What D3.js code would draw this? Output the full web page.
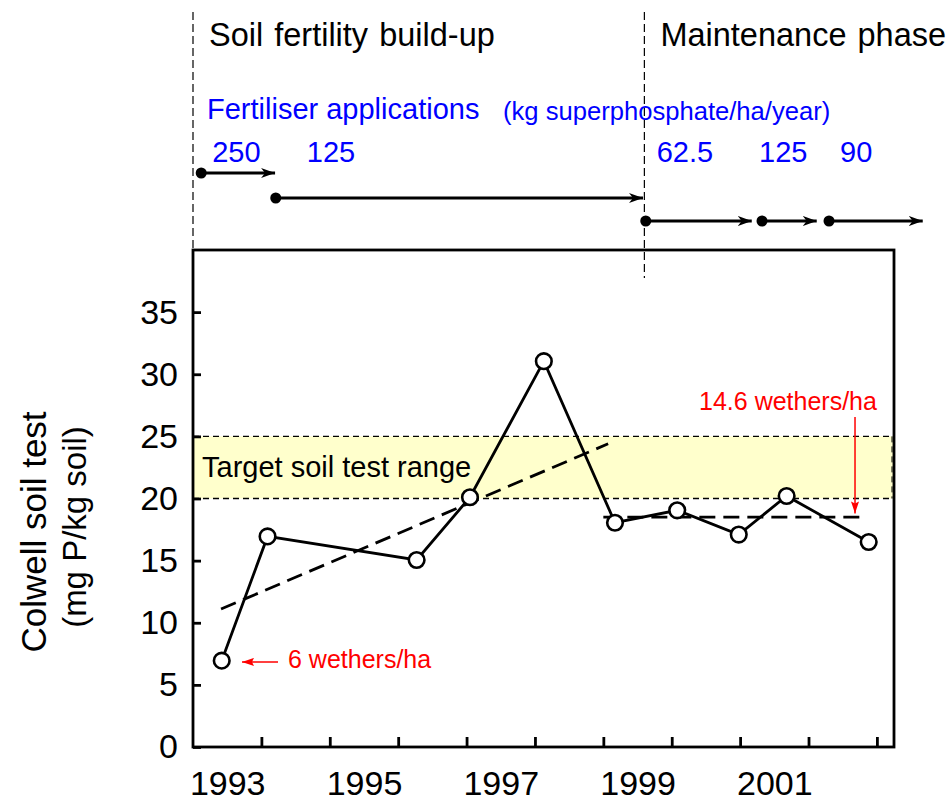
<!DOCTYPE html>
<html>
<head>
<meta charset="utf-8">
<script src="https://cdn.jsdelivr.net/npm/d3@7"></script>
<style>
  html, body { margin: 0; padding: 0; background: #fff; }
  svg { display: block; }
  text { font-family: "Liberation Sans", Arial, sans-serif; }
</style>
</head>
<body>
<svg id="chart" width="952" height="801"></svg>
<script>
// ---------- data ----------
const sampleYears = [1993.42, 1994.09, 1996.27, 1997.05, 1998.13, 1999.17, 2000.08, 2000.98, 2001.68, 2002.88];
const colwellP    = [6.95, 16.95, 15.05, 20.1, 31.05, 18.05, 19.05, 17.1, 20.2, 16.5];

const trendBuildUp     = [[1993.41, 11.1], [1999.07, 24.4]];
const trendMaintenance = [[1999.0, 18.5], [2002.86, 18.5]];

const targetRange = [20, 25];
const yTicks = [0, 5, 10, 15, 20, 25, 30, 35];
const yearBoundaries = [1994, 1995, 1996, 1997, 1998, 1999, 2000, 2001, 2002, 2003];
const yearLabels = [1993, 1995, 1997, 1999, 2001];

const phaseNames  = ["Soil fertility build-up", "Maintenance phase"];
const phaseStarts = [1993.0, 1999.6];

const fertRates  = ["250", "125", "62.5", "125", "90"];
const fertStarts = [1993.12, 1994.21, 1999.62, 2001.32, 2002.30];
const fertEnds   = [1994.20, 1999.58, 2001.17, 2002.12, 2003.67];

// ---------- layout ----------
const svg = d3.select("#chart");
const pL = 193, pR = 894, pT = 250, pB = 747;
const x = d3.scaleLinear().domain([1993, 2003.25]).range([pL, pR]);
const y = d3.scaleLinear().domain([0, 40]).range([pB, pT]);

const defs = svg.append("defs");
defs.append("marker").attr("id", "blackHead")
  .attr("viewBox", "0 0 14 10").attr("refX", 14).attr("refY", 5)
  .attr("markerWidth", 14).attr("markerHeight", 10)
  .attr("markerUnits", "userSpaceOnUse").attr("orient", "auto")
  .append("path").attr("d", "M0,0 L14,5 L0,10 L4,5 Z").attr("fill", "#000");
defs.append("marker").attr("id", "redHead")
  .attr("viewBox", "0 0 12 8").attr("refX", 12).attr("refY", 4)
  .attr("markerWidth", 12).attr("markerHeight", 8)
  .attr("markerUnits", "userSpaceOnUse").attr("orient", "auto")
  .append("path").attr("d", "M0,0 L12,4 L0,8 L2,4 Z").attr("fill", "#ff0000");

// target band
svg.append("rect")
  .attr("x", pL).attr("y", y(targetRange[1]))
  .attr("width", pR - pL).attr("height", y(targetRange[0]) - y(targetRange[1]))
  .attr("fill", "#ffffcc");
svg.selectAll(".bandLine").data(targetRange).join("line")
  .attr("x1", pL).attr("x2", pR)
  .attr("y1", d => y(d)).attr("y2", d => y(d))
  .attr("stroke", "#000").attr("stroke-width", 1.3).attr("stroke-dasharray", "6,4");
svg.append("line")
  .attr("x1", pR - 2).attr("x2", pR - 2)
  .attr("y1", y(targetRange[1])).attr("y2", y(targetRange[0]))
  .attr("stroke", "#000").attr("stroke-width", 1).attr("stroke-dasharray", "6,4");
svg.append("text").attr("x", 202).attr("y", 477)
  .attr("font-size", 29).attr("fill", "#000").text("Target soil test range");

// phase lines and names
svg.selectAll(".phaseLine").data(phaseStarts).join("line")
  .attr("x1", d => x(d)).attr("x2", d => x(d))
  .attr("y1", 12).attr("y2", (d, i) => i === 0 ? pT : 278)
  .attr("stroke", "#000").attr("stroke-width", 1.2).attr("stroke-dasharray", "8,4");
svg.selectAll(".phaseName").data(phaseNames).join("text")
  .attr("x", (d, i) => x(phaseStarts[i]) + 16).attr("y", 46)
  .attr("font-size", 32.5).attr("fill", "#000").attr("word-spacing", 2).text(d => d);

// fertiliser header
svg.append("text").attr("x", 207).attr("y", 119).attr("font-size", 29).attr("fill", "#0000ff")
  .text("Fertiliser applications");
svg.append("text").attr("x", 503).attr("y", 120).attr("font-size", 25.6).attr("fill", "#0000ff")
  .text("(kg superphosphate/ha/year)");

const rowY = [173, 198, 221, 221, 221];
const labelDx = [11, 31, 11, -3, 11];
fertRates.forEach((r, i) => {
  const x0 = x(fertStarts[i]), x1 = x(fertEnds[i]);
  svg.append("line").attr("x1", x0).attr("x2", x1).attr("y1", rowY[i]).attr("y2", rowY[i])
    .attr("stroke", "#000").attr("stroke-width", 3.2).attr("marker-end", "url(#blackHead)");
  svg.append("circle").attr("cx", x0).attr("cy", rowY[i]).attr("r", 5.5).attr("fill", "#000");
  svg.append("text").attr("x", x0 + labelDx[i]).attr("y", 162)
    .attr("font-size", 29).attr("fill", "#0000ff").text(r);
});

// trend lines
const line = d3.line().x(d => x(d[0])).y(d => y(d[1]));
[trendBuildUp, trendMaintenance].forEach(t => {
  svg.append("path").attr("d", line(t)).attr("fill", "none")
    .attr("stroke", "#000").attr("stroke-width", 2.8).attr("stroke-dasharray", "16,8");
});

// data series
const pts = sampleYears.map((yr, i) => [yr, colwellP[i]]);
svg.append("path").attr("d", line(pts)).attr("fill", "none")
  .attr("stroke", "#000").attr("stroke-width", 2.8);
svg.selectAll(".pt").data(pts).join("circle")
  .attr("cx", d => x(d[0])).attr("cy", d => y(d[1])).attr("r", 7.8)
  .attr("fill", "#fff").attr("stroke", "#000").attr("stroke-width", 2.6);

// frame
svg.append("rect").attr("x", pL).attr("y", pT)
  .attr("width", pR - pL).attr("height", pB - pT)
  .attr("fill", "none").attr("stroke", "#000").attr("stroke-width", 2.8);

// y axis
const yAxis = svg.append("g").attr("transform", `translate(${pL},0)`)
  .call(d3.axisLeft(y).tickValues(yTicks).tickSizeInner(-8).tickSizeOuter(0).tickPadding(15));
yAxis.select(".domain").remove();
yAxis.selectAll(".tick line").attr("stroke-width", 2.8);
yAxis.selectAll(".tick text").attr("font-size", 34).attr("fill", "#000")
  .style("font-family", "'Liberation Sans', Arial, sans-serif");

// x axis: year boundary ticks
const xTickAxis = svg.append("g").attr("transform", `translate(0,${pB})`)
  .call(d3.axisBottom(x).tickValues(yearBoundaries).tickSizeInner(-10).tickSizeOuter(0).tickFormat(""));
xTickAxis.select(".domain").remove();
xTickAxis.selectAll(".tick line").attr("stroke-width", 2.8);
// x axis: year labels centred within year
const xLabAxis = svg.append("g").attr("transform", `translate(0,${pB})`)
  .call(d3.axisBottom(x).tickValues(yearLabels.map(v => v + 0.5)).tickSize(0).tickPadding(24)
    .tickFormat((d, i) => String(yearLabels[i])));
xLabAxis.select(".domain").remove();
xLabAxis.selectAll(".tick text").attr("font-size", 34).attr("fill", "#000")
  .style("font-family", "'Liberation Sans', Arial, sans-serif");

// y axis title
svg.append("text").attr("transform", "translate(46,532) rotate(-90)")
  .attr("text-anchor", "middle").attr("font-size", 35).attr("fill", "#000")
  .text("Colwell soil test");
svg.append("text").attr("transform", "translate(86,527) rotate(-90)")
  .attr("text-anchor", "middle").attr("font-size", 33).attr("fill", "#000")
  .text("(mg P/kg soil)");

// stocking rate annotations
svg.append("text").attr("x", x(2001.7)).attr("y", 410).attr("text-anchor", "middle")
  .attr("font-size", 25).attr("fill", "#ff0000").text("14.6 wethers/ha");
svg.append("line").attr("x1", x(2002.68)).attr("x2", x(2002.68))
  .attr("y1", 417).attr("y2", y(18.8))
  .attr("stroke", "#ff0000").attr("stroke-width", 1.5).attr("marker-end", "url(#redHead)");
svg.append("text").attr("x", 288).attr("y", 668)
  .attr("font-size", 25).attr("fill", "#ff0000").text("6 wethers/ha");
svg.append("line").attr("x1", 278).attr("x2", 242)
  .attr("y1", y(6.85)).attr("y2", y(6.85))
  .attr("stroke", "#ff0000").attr("stroke-width", 1.5).attr("marker-end", "url(#redHead)");
</script>
</body>
</html>
